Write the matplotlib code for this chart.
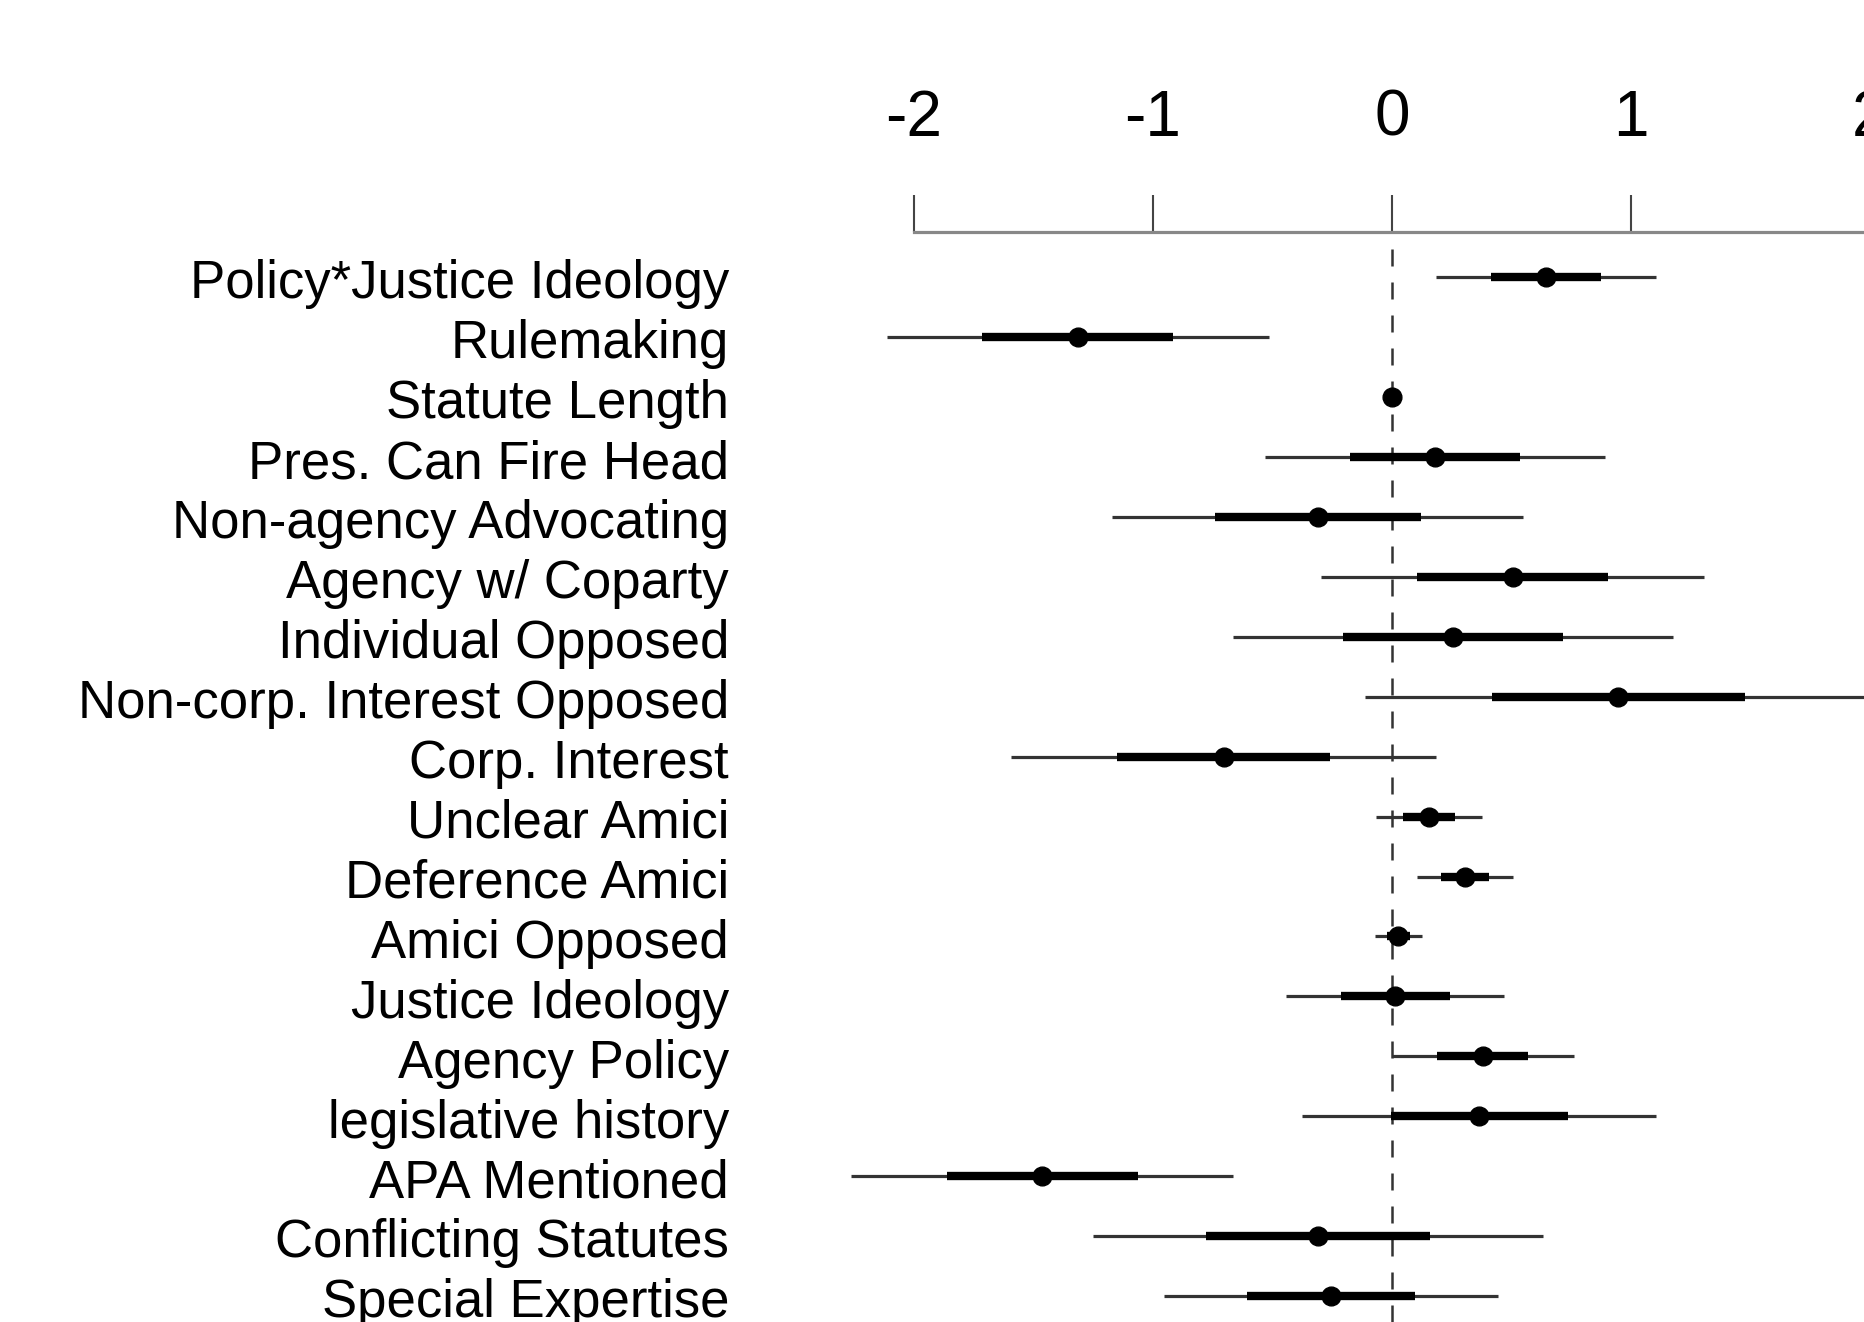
import numpy as np
import matplotlib.pyplot as plt
from matplotlib.transforms import blended_transform_factory

plt.rcParams['font.family'] = ['Liberation Sans', 'DejaVu Sans']

labels = ['Policy*Justice Ideology', 'Rulemaking', 'Statute Length',
          'Pres. Can Fire Head', 'Non-agency Advocating', 'Agency w/ Coparty',
          'Individual Opposed', 'Non-corp. Interest Opposed', 'Corp. Interest',
          'Unclear Amici', 'Deference Amici', 'Amici Opposed', 'Justice Ideology',
          'Agency Policy', 'legislative history', 'APA Mentioned',
          'Conflicting Statutes', 'Special Expertise']
coef = [0.645, -1.315, 0.0, 0.18, -0.31, 0.505, 0.255, 0.947, -0.705,
        0.155, 0.305, 0.027, 0.013, 0.38, 0.365, -1.464, -0.31, -0.255]
se = [0.23, 0.40, 0.01, 0.355, 0.43, 0.40, 0.46, 0.53, 0.445,
      0.11, 0.10, 0.05, 0.228, 0.19, 0.37, 0.40, 0.47, 0.35]
xticks = [-2, -1, 0, 1, 2]

coef = np.array(coef)
se = np.array(se)
y = np.arange(len(labels))

fig = plt.figure(figsize=(18.64, 13.22), dpi=100)
ax = fig.add_axes([800 / 1864, 0, 1150 / 1864, 1090 / 1322])

# x=0 reference line
ax.axvline(0, color='#333333', lw=1.8, linestyle=(0, (6.8, 6.4)), zorder=1)

# +-2 se (thin), +-1 se (thick), point estimate
ax.hlines(y, coef - 2 * se, coef + 2 * se, color='#333333', lw=2.3, zorder=2)
ax.hlines(y, coef - se, coef + se, color='black', lw=6.0, zorder=3)
ax.plot(coef, y, 'o', color='black', ms=13.5, zorder=4)

ax.set_xlim((800 - 1392) / 239, (1950 - 1392) / 239)
ax.set_ylim(17.43, -0.75)

ax.xaxis.tick_top()
ax.set_xticks(xticks)
ax.set_xticklabels([str(t) for t in xticks], fontsize=46)
ax.tick_params(axis='x', length=27, width=1.5, color='#444444', pad=33)
ax.set_yticks([])
for s in ['left', 'right', 'bottom']:
    ax.spines[s].set_visible(False)
ax.spines['top'].set_bounds(-2, 2)
ax.spines['top'].set_color('#888888')
ax.spines['top'].set_linewidth(2.3)

# variable names to the left of the plotting region
trans = blended_transform_factory(ax.transData, ax.transData)
for i, lab in enumerate(labels):
    ax.text((729 - 1392) / 239, i + 0.12, lab, transform=trans, ha='right',
            va='center', fontsize=38, clip_on=False)

fig.savefig('out.png', dpi=100)
